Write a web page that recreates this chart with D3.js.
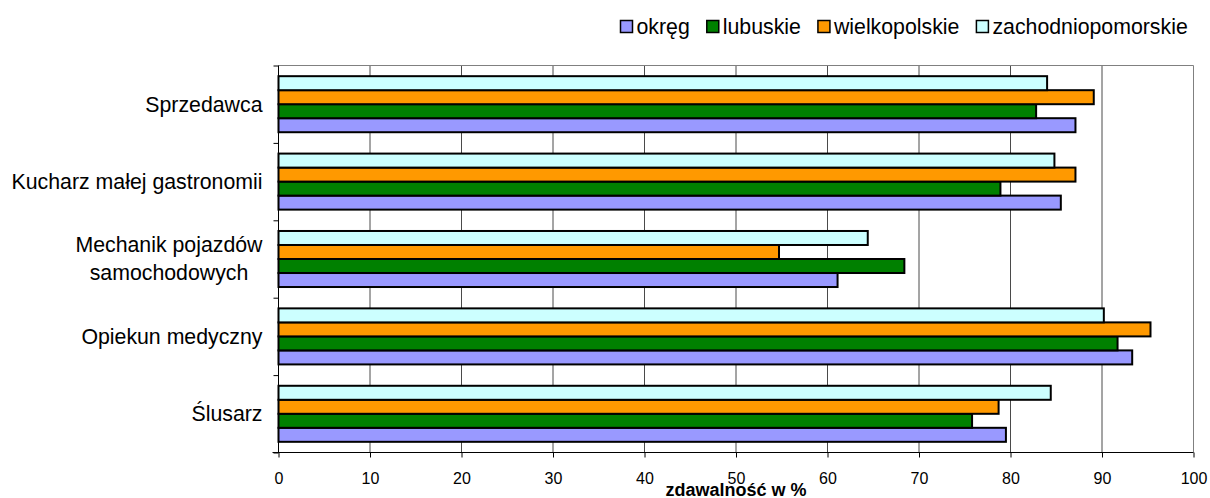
<!DOCTYPE html>
<html>
<head>
<meta charset="utf-8">
<script src="https://cdn.jsdelivr.net/npm/d3@7"></script>
<style>
  body { margin: 0; background: #fff; }
  text { font-family: "Liberation Sans", Arial, sans-serif; fill: #000; }
</style>
</head>
<body>
<div id="my_dataviz"></div>
<script>
var categories = ["Sprzedawca", "Kucharz małej gastronomii", "Mechanik pojazdów\nsamochodowych", "Opiekun medyczny", "Ślusarz"];
var seriesNames = ["okręg", "lubuskie", "wielkopolskie", "zachodniopomorskie"];
var okreg = [87.1, 85.5, 61.1, 93.3, 79.5];
var lubuskie = [82.8, 78.9, 68.4, 91.7, 75.8];
var wielkopolskie = [89.1, 87.1, 54.7, 95.3, 78.7];
var zachodniopomorskie = [84.0, 84.8, 64.4, 90.2, 84.4];
var xTicks = [0, 10, 20, 30, 40, 50, 60, 70, 80, 90, 100];
var xTitle = "zdawalność w %";

var seriesValues = {
  "okręg": okreg,
  "lubuskie": lubuskie,
  "wielkopolskie": wielkopolskie,
  "zachodniopomorskie": zachodniopomorskie
};
var colors = {
  "okręg": "#9999ff",
  "lubuskie": "#008000",
  "wielkopolskie": "#ff9900",
  "zachodniopomorskie": "#ccffff"
};

var margin = { top: 65.5, right: 16.5, bottom: 45.5, left: 278.5 },
  width = 1210 - margin.left - margin.right,
  height = 498 - margin.top - margin.bottom;

var root = d3
  .select("#my_dataviz")
  .append("svg")
  .attr("width", 1210)
  .attr("height", 498);

var svg = root
  .append("g")
  .attr("transform", "translate(" + margin.left + "," + margin.top + ")");

var x = d3.scaleLinear().domain([0, 100]).range([0, width]);

var y = d3
  .scaleBand()
  .domain(categories)
  .range([0, height])
  .paddingInner(0.276)
  .paddingOuter(0.138);

// bars inside a group: zachodniopomorskie on top, okręg at the bottom
var yInner = d3
  .scaleBand()
  .domain(seriesNames.slice().reverse())
  .range([0, y.bandwidth()]);

// boundaries between categories, for the left ticks
var yEdge = d3.scaleLinear().domain([0, categories.length]).range([0, height]);

// gridlines
svg
  .append("g")
  .selectAll("line")
  .data(xTicks.slice(1, -1))
  .enter()
  .append("line")
  .attr("x1", function(d) { return x(d); })
  .attr("x2", function(d) { return x(d); })
  .attr("y1", 0)
  .attr("y2", height)
  .attr("stroke", "#4a4a4a")
  .attr("stroke-width", 1);

// plot frame (top / right)
svg
  .append("path")
  .attr("d", "M0,0H" + width + "V" + height)
  .attr("fill", "none")
  .attr("stroke", "#808080")
  .attr("stroke-width", 1);

// bars
var groups = svg
  .append("g")
  .selectAll("g")
  .data(seriesNames)
  .enter()
  .append("g")
  .attr("fill", function(d) { return colors[d]; });

groups
  .selectAll("rect")
  .data(function(s) {
    return categories.map(function(c, i) {
      return { series: s, cat: c, value: seriesValues[s][i] };
    });
  })
  .enter()
  .append("rect")
  .attr("x", x(0))
  .attr("y", function(d) { return y(d.cat) + yInner(d.series); })
  .attr("width", function(d) { return x(d.value) - x(0); })
  .attr("height", yInner.bandwidth())
  .attr("stroke", "#000")
  .attr("stroke-width", 2);

// x axis
var xAxis = svg
  .append("g")
  .attr("transform", "translate(0," + height + ")")
  .call(
    d3.axisBottom(x)
      .tickValues(xTicks)
      .tickSize(5)
      .tickPadding(15)
      .tickFormat(d3.format("d"))
  );
xAxis.select(".domain").attr("stroke", "#000").attr("d", "M-6,0H" + width);
xAxis.selectAll(".tick line").attr("stroke", "#000");
xAxis
  .selectAll(".tick text")
  .style("font-family", "'Liberation Sans', Arial, sans-serif")
  .style("font-size", "16px")
  .attr("fill", "#000");

// y axis (ticks between categories, no labels)
var yAxis = svg
  .append("g")
  .call(
    d3.axisLeft(yEdge)
      .tickValues(d3.range(categories.length + 1))
      .tickSize(5)
      .tickFormat("")
  );
yAxis.select(".domain").attr("stroke", "#000").attr("d", "M0,0V" + height);
yAxis.selectAll(".tick line").attr("stroke", "#000");

// category labels
var labelRight = -16;
var lineGap = 28;
categories.forEach(function(c) {
  var lines = c.split("\n");
  var cy = y(c) + y.bandwidth() / 2;
  var t = svg
    .append("text")
    .style("font-size", "21.3px")
    .attr("text-anchor", "end")
    .attr("x", labelRight)
    .attr("y", cy - ((lines.length - 1) * lineGap) / 2);
  lines.forEach(function(l, i) {
    t.append("tspan")
      .attr("x", labelRight)
      .attr("dy", i === 0 ? "0.35em" : lineGap)
      .text(l);
  });
  if (lines.length > 1) {
    // centre the lines on each other, right edge of the widest one stays put
    var maxW = 0;
    t.selectAll("tspan").each(function() {
      maxW = Math.max(maxW, this.getComputedTextLength());
    });
    t.attr("text-anchor", "middle");
    t.selectAll("tspan").attr("x", labelRight - maxW / 2);
  }
});

// x title
svg
  .append("text")
  .attr("x", width / 2)
  .attr("y", height + 43)
  .attr("text-anchor", "middle")
  .style("font-size", "18px")
  .style("font-weight", "bold")
  .text(xTitle);

// legend
var legend = root.append("g");
var lx = 620.5;
seriesNames.forEach(function(s) {
  legend
    .append("rect")
    .attr("x", lx)
    .attr("y", 20.5)
    .attr("width", 12)
    .attr("height", 12)
    .attr("fill", colors[s])
    .attr("stroke", "#000")
    .attr("stroke-width", 1.5);
  var txt = legend
    .append("text")
    .attr("x", lx + 16)
    .attr("y", 26.5)
    .attr("dy", "0.35em")
    .style("font-size", "21.3px")
    .text(s);
  lx += 16 + txt.node().getComputedTextLength() + 17;
});
</script>
</body>
</html>
